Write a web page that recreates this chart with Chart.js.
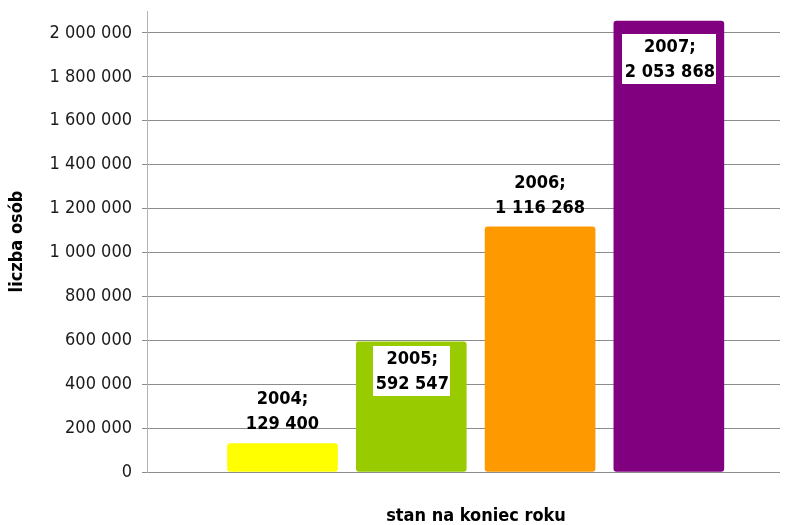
<!DOCTYPE html>
<html><head><meta charset="utf-8">
<script src="https://cdn.jsdelivr.net/npm/chart.js@4/dist/chart.umd.min.js"></script>
<style>html,body{margin:0;padding:0;background:#fff}#wrap{width:796px;height:525px}</style>
</head><body><div id="wrap"><canvas id="c" width="796" height="525"></canvas></div>
<script>
const years = [2004, 2005, 2006, 2007];
const values = [129400, 592547, 1116268, 2053868];
const barColors = ['#FFFF00', '#99CC00', '#FF9900', '#800080'];
const yTickValues = [0, 200000, 400000, 600000, 800000, 1000000, 1200000, 1400000, 1600000, 1800000, 2000000];
const yTitle = 'liczba osób';
const xTitle = 'stan na koniec roku';
const labelInside = [false, true, false, true];

const FONT = '"DejaVu Sans Condensed", "DejaVu Sans", sans-serif';
function fmt(v) { return String(v).replace(/\B(?=(\d{3})+(?!\d))/g, ' '); }

const labelPlugin = {
  id: 'labels',
  afterDraw(chart, args, opts) {
    const ctx = chart.ctx;
    const meta = chart.getDatasetMeta(0);
    ctx.save();
    ctx.font = 'bold 18px ' + FONT;
    ctx.textAlign = 'center';
    ctx.textBaseline = 'middle';
    meta.data.forEach((el, i) => {
      const l1 = years[i] + ';';
      const l2 = fmt(values[i]);
      const x = el.x, y = el.y;
      if (labelInside[i]) {
        const d = opts.insideGap[i];
        const w = Math.max(ctx.measureText(l1).width, ctx.measureText(l2).width) + 4;
        ctx.fillStyle = '#ffffff';
        ctx.fillRect(Math.round(x - w / 2), Math.round(y + d), Math.round(w), 50);
        ctx.fillStyle = '#000000';
        ctx.fillText(l1, x + 1, y + d + 13);
        ctx.fillText(l2, x + 1, y + d + 38);
      } else {
        ctx.fillStyle = '#000000';
        ctx.fillText(l1, x, y - 44);
        ctx.fillText(l2, x, y - 19);
      }
    });
    ctx.fillStyle = '#000000';
    ctx.fillText(xTitle, 476, 516);
    ctx.restore();
  }
};

new Chart(document.getElementById('c'), {
  type: 'bar',
  data: {
    datasets: [{
      data: years.map((yr, i) => ({ x: yr, y: values[i] })),
      backgroundColor: barColors,
      borderWidth: 0,
      borderRadius: 3,
      borderSkipped: false,
      barThickness: 110
    }]
  },
  options: {
    responsive: false,
    animation: false,
    devicePixelRatio: 1,
    layout: { padding: { left: 0, top: 11, right: 16, bottom: 53 } },
    plugins: { legend: { display: false }, tooltip: { enabled: false }, labels: { insideGap: [0, 4, 0, 13] } },
    scales: {
      x: { type: 'linear', display: false, offset: false, min: 2002.948, max: 2007.863 },
      y: {
        min: 0, max: 2100000,
        afterBuildTicks: s => { s.ticks = yTickValues.map(v => ({ value: v })); },
        afterFit: s => { s.width = 147; s.paddingTop = 0; s.paddingBottom = 0; },
        ticks: { font: { family: FONT, size: 18 }, color: '#1a1a1a', padding: 10, callback: v => fmt(v) },
        grid: { color: '#8c8c8c', tickLength: 5, tickColor: '#8c8c8c' },
        border: { color: '#b4b4b4' },
        title: { display: true, text: yTitle, color: '#000', font: { family: FONT, size: 18, weight: 'bold' }, padding: { top: 7, bottom: 0 } }
      }
    }
  },
  plugins: [labelPlugin]
});
</script></body></html>
